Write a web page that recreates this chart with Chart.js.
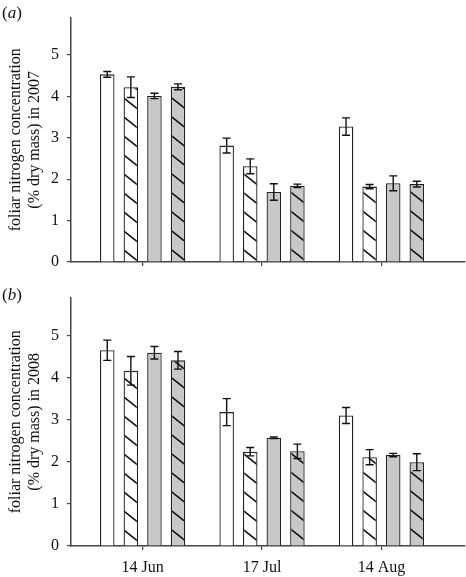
<!DOCTYPE html>
<html>
<head>
<meta charset="utf-8">
<script src="https://cdn.jsdelivr.net/npm/chart.js@4.4.0/dist/chart.umd.min.js"></script>
<style>
    body { margin: 0; background: #fff; }
    #wrap { position: relative; width: 466px; height: 577px; }
    canvas { position: absolute; left: 0; }
    .painel { position: absolute; font-family: 'Liberation Serif', 'Times New Roman', serif; font-size: 17px; color: #111; }
</style>
</head>
<body>
<div id="wrap">
    <canvas id="chartA" width="466" height="280" style="top:0"></canvas>
    <canvas id="chartB" width="466" height="297" style="top:280px"></canvas>
    <div class="painel" style="left:2px;top:3px">(<i>a</i>)</div>
    <div class="painel" style="left:2px;top:285px">(<i>b</i>)</div>
</div>
<script>
// categorias e ticks
const datas = ['14 Jun', '17 Jul', '14 Aug'];
const yTicks = [0, 1, 2, 3, 4, 5];

// 2007 - médias e erros (4 tratamentos)
const branco2007 = [4.53, 2.81, 3.27];
const brancoHach2007 = [4.22, 2.31, 1.82];
const cinza2007 = [4.01, 1.69, 1.90];
const cinzaHach2007 = [4.23, 1.84, 1.88];
const errBranco2007 = [0.07, 0.18, 0.21];
const errBrancoHach2007 = [0.25, 0.18, 0.05];
const errCinza2007 = [0.065, 0.20, 0.18];
const errCinzaHach2007 = [0.07, 0.04, 0.07];

// 2008
const branco2008 = [4.65, 3.18, 3.10];
const brancoHach2008 = [4.16, 2.24, 2.11];
const cinza2008 = [4.59, 2.57, 2.16];
const cinzaHach2008 = [4.41, 2.25, 1.99];
const errBranco2008 = [0.24, 0.32, 0.19];
const errBrancoHach2008 = [0.34, 0.10, 0.18];
const errCinza2008 = [0.15, 0.02, 0.04];
const errCinzaHach2008 = [0.21, 0.17, 0.20];

const fonte = "'Liberation Serif', 'Times New Roman', serif";
const cinza = '#c8c8c8';

// padrão hachurado "\" (um pouco menos inclinado que 45 graus)
function hachura(fundo) {
    const w = 24, h = 19;
    const c = document.createElement('canvas');
    c.width = w; c.height = h;
    const g = c.getContext('2d');
    g.fillStyle = fundo;
    g.fillRect(0, 0, w, h);
    g.strokeStyle = '#111';
    g.lineWidth = 1.6;
    g.beginPath();
    [-h, 0, h].forEach((d) => {
        g.moveTo(-6, -6 * h / w + d);
        g.lineTo(w + 6, h + 6 * h / w + d);
    });
    g.stroke();
    return g.createPattern(c, 'repeat');
}

// barras de erro
const barrasErro = {
    id: 'barrasErro',
    afterDatasetsDraw(chart) {
        const ctx = chart.ctx;
        const y = chart.scales.y;
        ctx.save();
        ctx.strokeStyle = '#111';
        ctx.lineWidth = 1.4;
        chart.data.datasets.forEach((ds, i) => {
            const meta = chart.getDatasetMeta(i);
            meta.data.forEach((bar, j) => {
                const v = ds.data[j].y;
                const e = ds.erros[j];
                const topo = y.getPixelForValue(v + e);
                const base = y.getPixelForValue(v - e);
                ctx.beginPath();
                ctx.moveTo(bar.x, topo); ctx.lineTo(bar.x, base);
                ctx.moveTo(bar.x - 4, topo); ctx.lineTo(bar.x + 4, topo);
                ctx.moveTo(bar.x - 4, base); ctx.lineTo(bar.x + 4, base);
                ctx.stroke();
            });
        });
        ctx.restore();
    }
};

function serie(valores, erros, cor) {
    return {
        data: valores.map((v, i) => ({ x: i, y: v })),
        erros: erros,
        backgroundColor: cor,
        borderColor: '#222',
        borderWidth: 1.3,
        categoryPercentage: 0.79,
        barPercentage: 0.615
    };
}

function criarGrafico(id, series, ano, mostrarDatas, padTopo, alturaX) {
    return new Chart(document.getElementById(id).getContext('2d'), {
        type: 'bar',
        data: { datasets: series },
        plugins: [barrasErro],
        options: {
            responsive: false,
            animation: false,
            layout: { padding: { top: padTopo, right: 1, left: 0, bottom: 0 } },
            plugins: { legend: { display: false }, tooltip: { enabled: false } },
            scales: {
                x: {
                    type: 'linear',
                    offset: false,
                    min: -0.6,
                    max: 2.7,
                    afterBuildTicks: (s) => { s.ticks = datas.map((d, i) => ({ value: i })); },
                    afterFit: (s) => { s.height = alturaX; },
                    ticks: {
                        display: mostrarDatas,
                        callback: (v) => datas[v],
                        color: '#111',
                        font: { family: fonte, size: 16 },
                        padding: 8,
                        maxRotation: 0
                    },
                    grid: { display: true, offset: false, drawOnChartArea: false, drawTicks: true, tickLength: 4, color: '#444', lineWidth: 1.2 },
                    border: { color: '#444', width: 1.5 }
                },
                y: {
                    min: 0,
                    max: 5.9,
                    afterBuildTicks: (s) => { s.ticks = yTicks.map((v) => ({ value: v })); },
                    afterFit: (s) => { s.width = 71; },
                    ticks: {
                        color: '#111',
                        font: { family: fonte, size: 16 },
                        padding: 8
                    },
                    grid: { display: true, drawOnChartArea: false, drawTicks: true, tickLength: 4, color: '#444', lineWidth: 1.2 },
                    border: { color: '#444', width: 1.5 },
                    title: {
                        display: true,
                        text: ['foliar nitrogen concentration', '(% dry mass) in ' + ano],
                        color: '#111',
                        font: { family: fonte, size: 16, lineHeight: 1.2 },
                        padding: { top: 6, bottom: 0 }
                    }
                }
            }
        }
    });
}

criarGrafico('chartA', [
    serie(branco2007, errBranco2007, '#ffffff'),
    serie(brancoHach2007, errBrancoHach2007, hachura('#ffffff')),
    serie(cinza2007, errCinza2007, cinza),
    serie(cinzaHach2007, errCinzaHach2007, hachura(cinza))
], '2007', false, 2, 18);

criarGrafico('chartB', [
    serie(branco2008, errBranco2008, '#ffffff'),
    serie(brancoHach2008, errBrancoHach2008, hachura('#ffffff')),
    serie(cinza2008, errCinza2008, cinza),
    serie(cinzaHach2008, errCinzaHach2008, hachura(cinza))
], '2008', true, 6, 31);
</script>
</body>
</html>
